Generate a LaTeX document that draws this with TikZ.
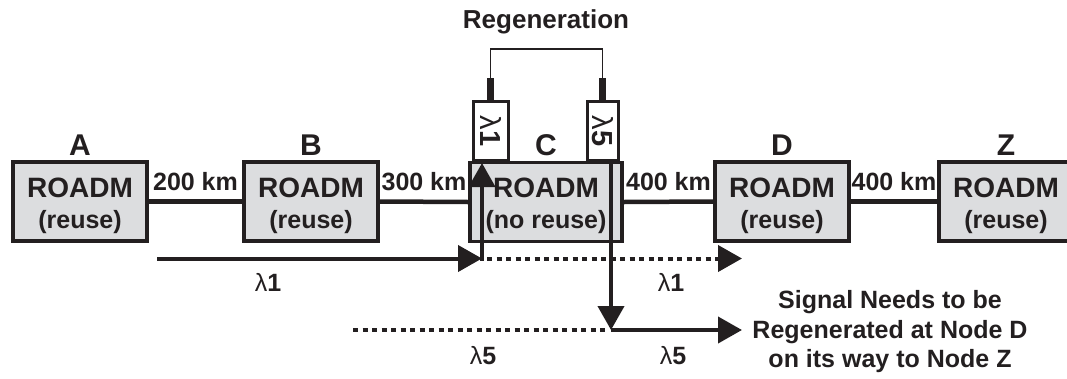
\documentclass[tikz,border=0pt]{standalone}
\usepackage{fontspec}
\setmainfont{Liberation Sans}
\usetikzlibrary{arrows.meta,calc}
\definecolor{ink}{HTML}{231F20}
\definecolor{boxgray}{HTML}{DCDDDF}
\tikzset{
  roadm/.style={draw=ink,fill=boxgray,line width=3.5pt,minimum width=134pt,minimum height=79pt,inner sep=0pt},
  mainlbl/.style={font=\bfseries\fontsize{28}{30}\selectfont,text=ink,anchor=base,inner sep=0pt},
  sublbl/.style={font=\bfseries\fontsize{25}{28}\selectfont,text=ink,anchor=base,inner sep=0pt},
  namelbl/.style={font=\bfseries\fontsize{30}{32}\selectfont,text=ink,anchor=base,inner sep=0pt},
  kmlbl/.style={font=\bfseries\fontsize{25}{28}\selectfont,text=ink,fill=white,inner sep=1pt,anchor=base},
  link/.style={draw=ink,line width=4.5pt},
  trbox/.style={draw=ink,fill=white,line width=3pt,minimum height=59pt,inner sep=0pt},
  trtext/.style={font=\fontsize{29}{30}\selectfont,text=ink,rotate=-90,inner sep=0pt},
  sig/.style={draw=ink,line width=4pt},
  sigarrow/.style={sig,-{Triangle[length=24pt,width=26pt]}},
  dotsig/.style={sig,dash pattern=on 5pt off 4.5pt},
  lamlbl/.style={font=\fontsize{25}{28}\selectfont,text=ink,anchor=base,inner sep=0pt},
  note/.style={font=\bfseries\fontsize{25}{29.5}\selectfont,text=ink,align=center,inner sep=0pt},
}
\newcommand{\lam}[1]{λ\textbf{#1}}
\begin{document}
\begin{tikzpicture}[x=1pt,y=-1pt]
\useasboundingbox (0,0) rectangle (1067,378);
% ROADM boxes
\node[roadm] (A) at (80,201.5) {};
\node[roadm] (B) at (311,201.5) {};
\node[roadm,minimum width=152pt] (C) at (546,202) {};
\node[roadm] (D) at (782,201.5) {};
\node[roadm] (Z) at (1006,201.5) {};
% links
\draw[link] (A.east) -- (B.west);
\draw[link] (B.east) -- (C.west);
\draw[link] (C.east) -- (D.west);
\draw[link] (D.east) -- (Z.west);
\node[kmlbl] (k1) at ($(A.east)!0.5!(B.west)+(0,-11)$) {200 km};
\node[kmlbl] (k2) at ($(B.east)!0.5!(C.west)+(0,-11)$) {300 km};
\node[kmlbl] (k3) at ($(C.east)!0.5!(D.west)+(0,-11)$) {400 km};
\node[kmlbl] (k4) at ($(D.east)!0.5!(Z.west)+(0,-11)$) {400 km};
% box labels
\foreach \n/\s in {A/(reuse),B/(reuse),C/(no reuse),D/(reuse),Z/(reuse)}{
  \node[mainlbl] (\n m) at ($(\n.center)+(0,-4.5)$) {ROADM};
  \node[sublbl] (\n s) at ($(\n.center)+(0,26.5)$) {\s};
  \node[namelbl] (\n n) at ($(\n.center)+(0,-46.5)$) {\n};
}
% transponders
\node[trbox,minimum width=35pt,anchor=south] (T1) at (490.5,162) {};
\node[trbox,minimum width=31pt,anchor=south] (T5) at (602.5,162) {};
\node[trtext] (T1t) at (T1.center) {\lam{1}};
\node[trtext] (T5t) at (T5.center) {\lam{5}};
\coordinate (S1) at (490.5,78);
\coordinate (S5) at (602.5,78);
\draw[draw=ink,line width=7pt] (T1.north) -- (S1);
\draw[draw=ink,line width=7pt] (T5.north) -- (S5);
\draw[draw=ink,line width=1.6pt] (S1) -- (490.5,49) -- (602.5,49) -- (S5);
\node[font=\bfseries\fontsize{26}{28}\selectfont,text=ink] (reg) at (546,22) {Regeneration};
% lambda 1 path
\coordinate (L1s) at (157,258.5);
\coordinate (L1c) at (482,258.5);
\coordinate (L1u) at (482,163);
\coordinate (L1e) at (742,258.5);
\draw[sigarrow] (L1s) -- (L1c);
\draw[sigarrow] ($(L1c)+(0,2)$) -- (L1u);
\draw[dotsig] ($(L1c)+(5,0)$) -- ($(L1e)+(-20,0)$);
\draw[sigarrow] ($(L1e)+(-4,0)$) -- (L1e);
% lambda 5 path
\coordinate (L5t) at (611,162);
\coordinate (L5c) at (611,330);
\coordinate (L5s) at (353,330);
\coordinate (L5e) at (742,330);
\draw[sigarrow] (L5t) -- (L5c);
\draw[dotsig] (L5s) -- ($(L5c)+(-4,0)$);
\draw[sigarrow] (L5c) -- (L5e);
% lambda labels
\node[lamlbl] (l1a) at (268,291) {\lam{1}};
\node[lamlbl] (l1b) at (671,291) {\lam{1}};
\node[lamlbl] (l5a) at (483,364) {\lam{5}};
\node[lamlbl] (l5b) at (673,364) {\lam{5}};
% note
\node[note] (nt) at (890,332) {Signal Needs to be\\Regenerated at Node D\\on its way to Node Z};
\end{tikzpicture}
\end{document}
